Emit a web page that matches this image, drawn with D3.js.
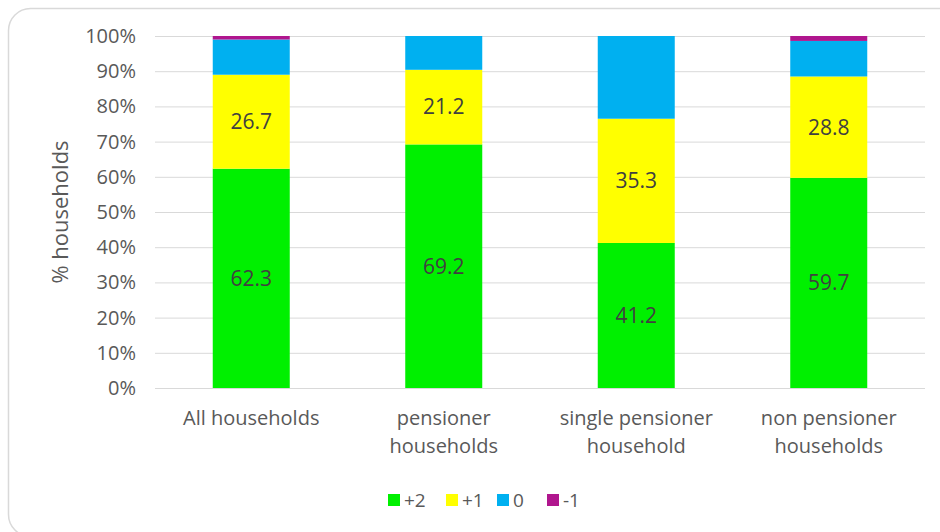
<!DOCTYPE html>
<html><head><meta charset="utf-8">
<script src="https://cdn.jsdelivr.net/npm/d3@7"></script>
<style>body{margin:0;background:#fff;}svg{display:block;}</style>
</head><body>
<svg id="c" width="940" height="532"></svg>
<script>
const categories = [["All households"], ["pensioner", "households"], ["single pensioner", "household"], ["non pensioner", "households"]];
const seriesNames = ["+2", "+1", "0", "-1"];
const plus2 = [62.3, 69.2, 41.2, 59.7];
const plus1 = [26.7, 21.2, 35.3, 28.8];
const zero = [10.0, 9.6, 23.5, 10.1];
const minus1 = [1.0, 0.0, 0.0, 1.4];
const labelled = [true, true, false, false];
const colors = ["#00f000", "#ffff00", "#00b0f0", "#b0168e"];
const yTicks = [0, 10, 20, 30, 40, 50, 60, 70, 80, 90, 100];

const series = [plus2, plus1, zero, minus1];
const svg = d3.select("#c");
const font = "'Open Sans', sans-serif";

// frame
svg.append("rect").attr("x", 8.5).attr("y", 8.5).attr("width", 960).attr("height", 528)
  .attr("rx", 22).attr("fill", "none").attr("stroke", "#d9d9d9").attr("stroke-width", 1.5);

const x = d3.scaleBand().domain(d3.range(categories.length)).range([155, 925]).paddingInner(0.6).paddingOuter(0.3);
const y = d3.scaleLinear().domain([0, 100]).range([388, 36]);

// gridlines
svg.append("g").selectAll("line").data(yTicks).join("line")
  .attr("x1", 155).attr("x2", 925).attr("y1", d => y(d) + 0.5).attr("y2", d => y(d) + 0.5)
  .attr("stroke", "#d9d9d9").attr("stroke-width", 1);

// y tick labels
const yAxis = d3.axisLeft(y).tickValues(yTicks).tickFormat(d => d + "%").tickSize(0).tickPadding(0);
const ga = svg.append("g").attr("transform", "translate(136,0)").call(yAxis);
ga.select(".domain").remove();
ga.selectAll("text").attr("font-family", font).attr("font-size", 20).attr("fill", "#595959");

// stacked data
const stackData = categories.map((c, i) => {
  const o = {i};
  seriesNames.forEach((s, k) => o[s] = series[k][i]);
  return o;
});
const stacked = d3.stack().keys(seriesNames)(stackData);

stacked.forEach((layer, k) => {
  svg.append("g").selectAll("rect").data(layer).join("rect")
    .attr("x", d => x(d.data.i)).attr("width", x.bandwidth())
    .attr("y", d => y(d[1])).attr("height", d => y(d[0]) - y(d[1]))
    .attr("fill", colors[k]);
  if (labelled[k]) {
    svg.append("g").selectAll("text").data(layer).join("text")
      .attr("x", d => x(d.data.i) + x.bandwidth() / 2)
      .attr("y", d => y((d[0] + d[1]) / 2))
      .attr("dy", "0.35em").attr("text-anchor", "middle")
      .attr("font-family", font).attr("font-size", 21).attr("fill", "#404040")
      .text(d => d.data[seriesNames[k]].toFixed(1));
  }
});

// category labels
categories.forEach((lines, i) => {
  const t = svg.append("text").attr("x", x(i) + x.bandwidth() / 2).attr("y", 425)
    .attr("text-anchor", "middle").attr("font-family", font).attr("font-size", 20).attr("fill", "#595959");
  lines.forEach((l, j) => t.append("tspan").attr("x", x(i) + x.bandwidth() / 2).attr("dy", j === 0 ? 0 : 28).text(l));
});

// y axis title
svg.append("text").attr("transform", "translate(68,212) rotate(-90)").attr("text-anchor", "middle")
  .attr("font-family", font).attr("font-size", 22).attr("fill", "#595959").text("% households");

// legend
const legX = [388, 446, 497, 547];
const leg = svg.append("g");
seriesNames.forEach((s, k) => {
  leg.append("rect").attr("x", legX[k]).attr("y", 494).attr("width", 12).attr("height", 12).attr("fill", colors[k]);
  leg.append("text").attr("x", legX[k] + 16).attr("y", 500).attr("dy", "0.35em")
    .attr("font-family", font).attr("font-size", 19).attr("fill", "#595959").text(s);
});
</script>
</body></html>
